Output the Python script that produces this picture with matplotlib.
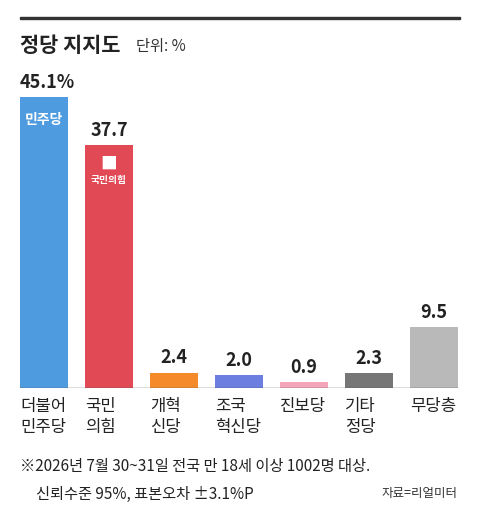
import matplotlib
matplotlib.use("Agg")
import matplotlib.pyplot as plt
from matplotlib.patches import Rectangle

plt.rcParams['font.family'] = ['Noto Sans CJK KR', 'DejaVu Sans']

parties = ["더불어\n민주당", "국민\n의힘", "개혁\n신당", "조국\n혁신당", "진보당", "기타\n정당", "무당층"]
values = [45.1, 37.7, 2.4, 2.0, 0.9, 2.3, 9.5]
labels = ["45.1%", "37.7", "2.4", "2.0", "0.9", "2.3", "9.5"]
colors = ["#4e9be0", "#e14a55", "#f58a2a", "#6c7fe0", "#f3a5ba", "#767676", "#b9b9b9"]

W, H = 480, 525
fig = plt.figure(figsize=(W/100, H/100), dpi=100)
fig.patches.append(Rectangle((20/W, 1-19/H), 440/W, 2/H, transform=fig.transFigure, color="#333333"))
fig.text(20/W, 1-45/H, "정당 지지도", fontsize=15, fontweight='bold', va='center', color="#222")
fig.text(136/W, 1-46/H, "단위: %", fontsize=11, va='center', color="#333")

ax = fig.add_axes([20/W, (H-388)/H, 438/W, 291/H])
x = list(range(len(values)))
ax.bar(x, values, width=0.74, color=colors)
ax.set_xlim(-0.37, 6.37)
ax.set_ylim(0, 45.1)
ax.axis('off')
for xi, v, l in zip(x, values, labels):
    if xi == 0:
        ax.text(-0.37, v + 0.8, l, ha='left', va='bottom', fontsize=13, fontweight='bold', color="#222")
    else:
        ax.text(xi, v + 0.8, l, ha='center', va='bottom', fontsize=13, fontweight='bold', color="#222")
for xi, p in zip(x, parties):
    ax.text(xi - 0.37, -1.6, p, ha='left', va='top', fontsize=12, color="#222", linespacing=1.25)
ax.text(0, 41.5, "민주당", ha='center', va='center', fontsize=10, fontweight='bold', color='white')
ax.text(1, 34.7, "■", ha='center', va='center', fontsize=12, color='white')
ax.text(1, 32.2, "국민의힘", ha='center', va='center', fontsize=7, fontweight='bold', color='white')
ax.axhline(0, color="#555", lw=1)

fig.text(20/W, 1-467/H, "※2026년 7월 30~31일 전국 만 18세 이상 1002명 대상.", fontsize=11, va='center', color="#222")
fig.text(36/W, 1-494/H, "신뢰수준 95%, 표본오차 ±3.1%P", fontsize=11, va='center', color="#222")
fig.text(458/W, 1-494/H, "자료=리얼미터", fontsize=9, va='center', ha='right', color="#333")
fig.savefig("out.png", dpi=100, facecolor='white')
